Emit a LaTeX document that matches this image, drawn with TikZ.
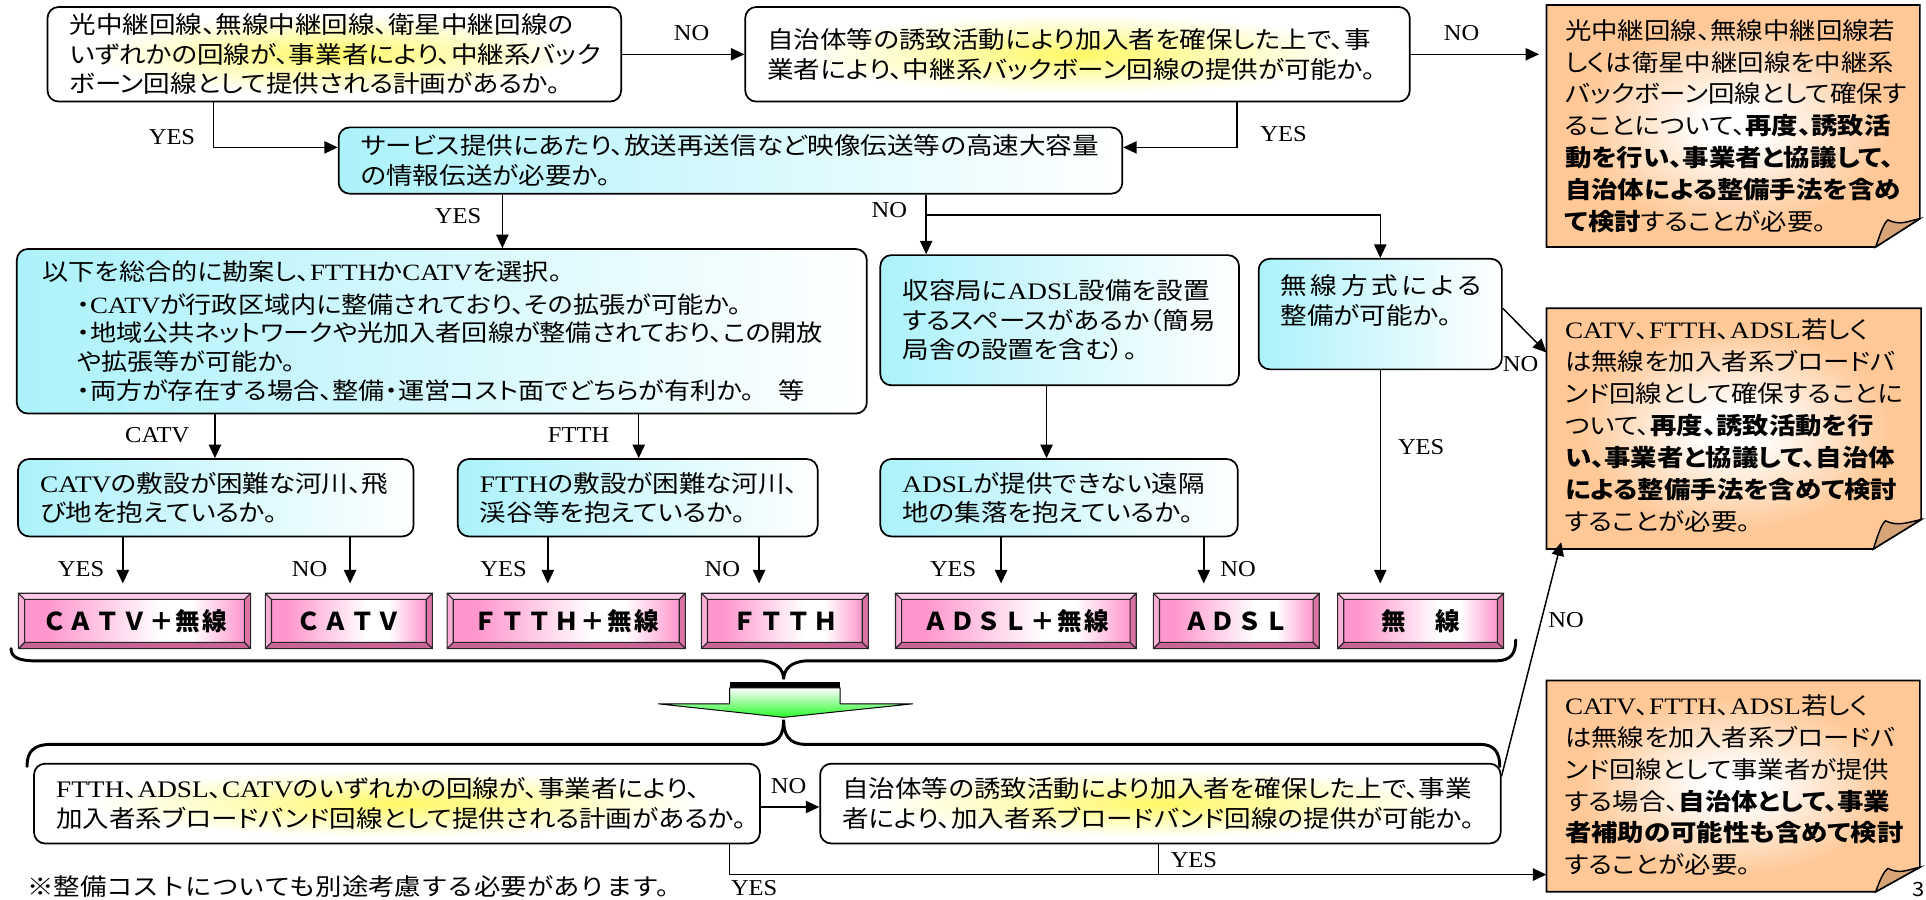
\documentclass[tikz,border=0pt]{standalone}
\usepackage{fontspec}
\setmainfont{Noto Sans CJK JP}[RawFeature={+palt}, FakeStretch=1.12]
\newfontfamily\jpm{Noto Sans CJK JP}[FakeStretch=1.12]
\newfontfamily\latf{Liberation Serif}[FakeStretch=1.15]
\newfontfamily\labf{Liberation Serif}[FakeStretch=1.08]
\newfontfamily\resf{Noto Sans CJK JP}[LetterSpace=9]
\newcommand\lt[1]{{\latf #1}}
\usetikzlibrary{arrows.meta,shadings}

\definecolor{cyanL}{RGB}{172,242,250}
\definecolor{ylwC}{RGB}{255,248,100}
\definecolor{ylwM}{RGB}{255,252,170}
\definecolor{orng}{RGB}{255,200,150}
\definecolor{pinkF}{RGB}{255,150,205}
\definecolor{pinkL}{RGB}{255,200,230}
\definecolor{pinkM}{RGB}{250,175,215}
\definecolor{pinkR}{RGB}{220,115,165}
\definecolor{pinkD}{RGB}{200,100,150}
\definecolor{grn}{RGB}{40,250,40}
\definecolor{flap}{RGB}{214,164,118}

\pgfdeclareradialshading{yglow}{\pgfpoint{0bp}{0bp}}{color(0bp)=(ylwC); color(9bp)=(ylwM); color(21bp)=(white); color(50bp)=(white)}
\pgfdeclareradialshading{oglow}{\pgfpoint{0bp}{0bp}}{color(0bp)=(white); color(4bp)=(white); color(21bp)=(orng); color(50bp)=(orng)}
\pgfdeclarehorizontalshading{pface}{100bp}{color(0bp)=(pinkF); color(30bp)=(pinkF); color(56bp)=(white); color(63bp)=(white); color(75bp)=(pinkF); color(100bp)=(pinkF)}

\tikzset{
  bx/.style={draw=black, line width=1.4pt, rounded corners=9pt, anchor=north west,
    align=left, inner xsep=18pt, inner ysep=0pt, font=\fontsize{19.3}{24}\selectfont},
  ybx/.style={bx, shade, shading=yglow},
  bbx/.style={bx, left color=cyanL, right color=white},
  notet/.style={anchor=north west, align=left, inner xsep=15pt, inner ysep=0pt,
    font=\fontsize{19.2}{26}\selectfont},
  notebg/.style={shade, shading=oglow, draw=black, line width=1.4pt},
  lbl/.style={font=\labf\fontsize{18.5}{18.5}\selectfont, inner sep=0pt},
  arr/.style={-{Triangle[length=11pt,width=10pt]}, line width=1.2pt},
  ln/.style={line width=1.2pt},
  brace/.style={line width=2.4pt, line cap=round},
  rest/.style={anchor=north west, inner sep=0pt, minimum height=45pt,
    font=\resf\bfseries\fontsize{20}{20}\selectfont},
}

% note background with dog-ear: x1,y1,x2,y2,foldw,foldh
\newcommand\notebox[6]{%
  \path[notebg] (#1,#2) -- (#3,#2) -- (#3,#4-#6) -- (#3-#5,#4) -- (#1,#4) -- cycle;
  \filldraw[fill=flap, line width=1.2pt] (#3-#5,#4) .. controls (#3-#5+3,#4-8) and (#3-#5+6,#4-#6+4) .. (#3-#5+10,#4-#6+1)
     .. controls (#3-#5+20,#4-#6+6) and (#3-10,#4-#6+2) .. (#3,#4-#6) -- cycle;
}
% bevel result box: name, x1, x2, text
\newcommand\resbox[4]{%
  \fill[pinkD] (#2,483) rectangle (#3,528);
  \fill[pinkL] (#2,483) -- (#3,483) -- (#3-5,488) -- (#2+5,488) -- cycle;
  \fill[pinkM] (#2,483) -- (#2+5,488) -- (#2+5,523) -- (#2,528) -- cycle;
  \fill[pinkR] (#3,483) -- (#3-5,488) -- (#3-5,523) -- (#3,528) -- cycle;
  \shade[shading=pface] (#2+5,488) rectangle (#3-5,523);
  \draw[line width=0.9pt, black!85] (#2,483) rectangle (#3,528) (#2+5,488) rectangle (#3-5,523)
     (#2,483) -- (#2+5,488) (#3,483) -- (#3-5,488) (#2,528) -- (#2+5,523) (#3,528) -- (#3-5,523);
  \node[rest, minimum width={(#3-#2)*1pt}] (#1) at (#2,483) {#4};
}

\begin{document}
\begin{tikzpicture}[x=1pt, y=-1pt]
\useasboundingbox (0,0) rectangle (1568,732);

% ---------- orange notes ----------
\notebox{1259}{4}{1563}{201}{36}{23}
\node[notet, minimum width=304pt, minimum height=197pt, text width=274pt] (o1) at (1259,4) {%
光中継回線、無線中継回線若\\
しくは衛星中継回線を中継系\\
バックボーン回線として確保す\\
ることについて、{\bfseries 再度、誘致活}\\
{\bfseries 動を行い、事業者と協議して、}\\
{\bfseries 自治体による整備手法を含め}\\
{\bfseries て検討}することが必要。};

\notebox{1259}{251}{1564}{447}{39}{24}
\node[notet, minimum width=305pt, minimum height=190pt, text width=275pt] (o2) at (1259,251) {%
\lt{CATV}、\lt{FTTH}、\lt{ADSL}若しく\\
は無線を加入者系ブロードバ\\
ンド回線として確保することに\\
ついて、{\bfseries 再度、誘致活動を行}\\
{\bfseries い、事業者と協議して、自治体}\\
{\bfseries による整備手法を含めて検討}\\
することが必要。};

\notebox{1259}{554}{1563}{726}{36}{20}
\node[notet, minimum width=304pt, minimum height=170pt, text width=274pt] (o3) at (1259,554) {%
\lt{CATV}、\lt{FTTH}、\lt{ADSL}若しく\\
は無線を加入者系ブロードバ\\
ンド回線として事業者が提供\\
する場合、{\bfseries 自治体として、事業}\\
{\bfseries 者補助の可能性も含めて検討}\\
することが必要。};

% ---------- question boxes ----------
\node[ybx, minimum width=467pt, minimum height=77pt, text width=431pt] (b1) at (38,5) {%
光中継回線、無線中継回線、衛星中継回線の\\
いずれかの回線が、事業者により、中継系バック\\
ボーン回線として提供される計画があるか。};

\node[ybx, minimum width=541pt, minimum height=77pt, text width=505pt] (b2) at (606,5) {%
自治体等の誘致活動により加入者を確保した上で、事\\
業者により、中継系バックボーン回線の提供が可能か。};

\node[bbx, minimum width=638pt, minimum height=54pt, text width=602pt] (svc) at (275,103) {%
サービス提供にあたり、放送再送信など映像伝送等の高速大容量\\
の情報伝送が必要か。};

\node[bbx, minimum width=692pt, minimum height=134pt, text width=650pt, inner xsep=21pt,
      font=\fontsize{19}{23.5}\selectfont] (big) at (13,202) {%
以下を総合的に勘案し、\lt{FTTH}か\lt{CATV}を選択。\\[3pt]
\hspace*{28pt}・\lt{CATV}が行政区域内に整備されており、その拡張が可能か。\\
\hspace*{28pt}・地域公共ネットワークや光加入者回線が整備されており、この開放\\
\hspace*{28pt}や拡張等が可能か。\\
\hspace*{28pt}・両方が存在する場合、整備・運営コスト面でどちらが有利か。\mbox{\quad 等}};

\node[bbx, minimum width=292pt, minimum height=106pt, text width=256pt] (adslq) at (716,207) {%
収容局に\lt{ADSL}設備を設置\\
するスペースがあるか（簡易\\
局舎の設置を含む）。};

\node[bbx, minimum width=198pt, minimum height=90pt, text width=162pt] (wq) at (1024,210) {%
無\kern3pt 線\kern3pt 方\kern3pt 式\kern3pt に\kern3pt よ\kern3pt る\\
整備が可能か。\\ \mbox{}};

\node[bbx, minimum width=322pt, minimum height=63pt, text width=286pt] (catvq) at (14,373) {%
\lt{CATV}の敷設が困難な河川、飛\\
び地を抱えているか。};

\node[bbx, minimum width=293pt, minimum height=63pt, text width=257pt] (ftthq) at (372,373) {%
\lt{FTTH}の敷設が困難な河川、\\
渓谷等を抱えているか。};

\node[bbx, minimum width=291pt, minimum height=63pt, text width=255pt] (adsl2) at (716,373) {%
\lt{ADSL}が提供できない遠隔\\
地の集落を抱えているか。};

\node[ybx, minimum width=591pt, minimum height=65pt, text width=555pt] (c1) at (27,621) {%
\lt{FTTH}、\lt{ADSL}、\lt{CATV}のいずれかの回線が、事業者により、\\
加入者系ブロードバンド回線として提供される計画があるか。};

\node[ybx, minimum width=554pt, minimum height=65pt, text width=518pt] (c2) at (667,621) {%
自治体等の誘致活動により加入者を確保した上で、事業\\
者により、加入者系ブロードバンド回線の提供が可能か。};

% ---------- result boxes ----------
\resbox{r1}{15}{204}{ＣＡＴＶ＋無線}
\resbox{r2}{216}{352}{ＣＡＴＶ}
\resbox{r3}{364}{558}{ＦＴＴＨ＋無線}
\resbox{r4}{571}{707}{ＦＴＴＨ}
\resbox{r5}{729}{925}{ＡＤＳＬ＋無線}
\resbox{r6}{939}{1074}{ＡＤＳＬ}
\resbox{r7}{1089}{1224}{無　線}

% ---------- braces and green arrow ----------
\draw[brace] (9,528) .. controls (9,535) and (15,538) .. (29,538) -- (618,538)
  .. controls (632,538) and (638,545) .. (638,553)
  .. controls (638,545) and (644,538) .. (658,538) -- (1218,538)
  .. controls (1230,538) and (1234,532) .. (1234,521);
\fill (594,555) rectangle (684,560);
\draw[top color=white, bottom color=grn, line width=0.8pt, line join=round]
  (594,560) -- (684,560) -- (684,573) -- (743,573) -- (638,584) -- (536,573) -- (594,573) -- cycle;
\draw[brace] (22,624) .. controls (22,612) and (27,606) .. (42,606) -- (620,606)
  .. controls (634,606) and (638,598) .. (638,586)
  .. controls (638,598) and (642,606) .. (656,606) -- (1205,606)
  .. controls (1216,606) and (1221,612) .. (1221,624);

% ---------- connectors ----------
\draw[arr] (b1.east) -- (b2.west);
\node[lbl] (l1) at (563,27) {NO};
\draw[arr, shorten >=6pt] (b2.east) -- (b2.east -| o1.west);
\node[lbl] (l2) at (1190,27) {NO};
\draw[arr] (b1.south -| 174,0) |- (svc.west |- 0,120);
\node[lbl] (l3) at (140,112) {YES};
\draw[arr] (b2.south -| 1007,0) |- (svc.east |- 0,120);
\node[lbl] (l4) at (1045,109) {YES};
\draw[arr] (svc.south -| 409,0) -- (big.north -| 409,0);
\node[lbl] (l5) at (373,176) {YES};
\coordinate (nb) at (754,175);
\draw[arr] (svc.south -| nb) -- (adslq.north -| nb);
\draw[arr] (nb) -| (wq.north);
\node[lbl] (l6) at (724,171) {NO};

\draw[arr] (big.south -| 175,0) -- (catvq.north -| 175,0);
\node[lbl] (l7) at (128,354) {CATV};
\draw[arr] (big.south -| 520,0) -- (ftthq.north -| 520,0);
\node[lbl] (l8) at (471,354) {FTTH};
\draw[arr] (adslq.south -| 852,0) -- (adsl2.north -| 852,0);

\draw[arr, shorten >=8pt] (catvq.south -| 100,0) -- (r1.north -| 100,0);
\node[lbl] (l9) at (66,463) {YES};
\draw[arr, shorten >=8pt] (catvq.south -| 285,0) -- (r2.north -| 285,0);
\node[lbl] (l10) at (252,463) {NO};
\draw[arr, shorten >=8pt] (ftthq.south -| 446,0) -- (r3.north -| 446,0);
\node[lbl] (l11) at (410,463) {YES};
\draw[arr, shorten >=8pt] (ftthq.south -| 618,0) -- (r4.north -| 618,0);
\node[lbl] (l12) at (588,463) {NO};
\draw[arr, shorten >=8pt] (adsl2.south -| 815,0) -- (r5.north -| 815,0);
\node[lbl] (l13) at (776,463) {YES};
\draw[arr, shorten >=8pt] (adsl2.south -| 980,0) -- (r6.north -| 980,0);
\node[lbl] (l14) at (1008,463) {NO};
\draw[arr, shorten >=8pt] (wq.south) -- (wq.south |- r7.north);
\node[lbl] (l15) at (1157,364) {YES};
\draw[arr] (wq.east |- 0,251) -- (o2.west |- 0,287);
\node[lbl] (l16) at (1238,296) {NO};

\draw[arr] (c1.east |- 0,657) -- (c2.west |- 0,657);
\node[lbl] (l17) at (642,640) {NO};
\draw[arr] (c1.south -| 594,0) |- (o3.west |- 0,712);
\node[lbl] (l18) at (614,723) {YES};
\coordinate (j2) at (943,712);
\draw[ln] (c2.south -| j2) -- (j2);
\node[lbl] (l19) at (972,700) {YES};
\draw[arr] (c2.east |- 0,632) -- (o2.south -| 1271,0);
\node[lbl] (l20) at (1275,505) {NO};

% ---------- footnote and page number ----------
\node[anchor=west, inner sep=0pt, font=\jpm\fontsize{19.2}{20}\selectfont] (fn) at (22,722)
  {※整備コストについても別途考慮する必要があります。};
\node[anchor=south east, inner sep=0pt, font=\fontsize{16}{16}\selectfont] (pg) at (1567,730) {3};
\end{tikzpicture}
\end{document}
